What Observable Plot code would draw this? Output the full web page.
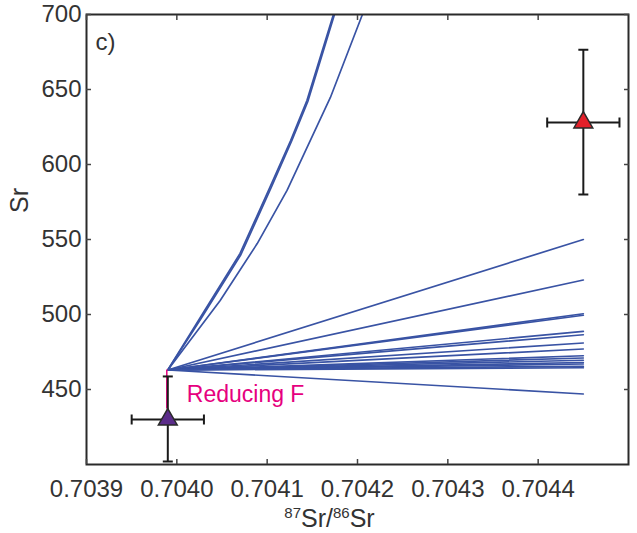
<!DOCTYPE html>
<html>
<head>
<meta charset="utf-8">
<script src="https://cdn.jsdelivr.net/npm/d3@7"></script>
<script src="https://cdn.jsdelivr.net/npm/@observablehq/plot@0.6"></script>
<style>
  html, body { margin: 0; padding: 0; background: #fff; }
  #chart svg { display: block; font-family: "Liberation Sans", Arial, Helvetica, sans-serif; }
</style>
</head>
<body>
<div id="chart"></div>
<script>
// ---- data ----
const xTicks = [0.7039, 0.7040, 0.7041, 0.7042, 0.7043, 0.7044];
const xTickLabels = ["0.7039", "0.7040", "0.7041", "0.7042", "0.7043", "0.7044"];
const yTicks = [450, 500, 550, 600, 650, 700];
const yTickLabels = ["450", "500", "550", "600", "650", "700"];

// common start point of all model curves
const startX = 0.70399;
const startY = 463;

// straight model lines ending at x = fanEndX
const fanEndX = 0.70445;
const fanEndY = [550, 523, 500.5, 499.5, 488.7, 486.5, 481, 477, 472.5, 471, 469.5, 468, 467, 465.5, 464.5, 447];

// steep curved model lines (continue past the top of the frame)
const curveAX = [0.70399, 0.704026, 0.704070, 0.704103, 0.704126, 0.704144, 0.704173, 0.704185];
const curveAY = [463, 498, 540.7, 584.7, 616, 642.7, 699.3, 722];
const curveBX = [0.70399, 0.704027, 0.704071, 0.704104, 0.704127, 0.704145, 0.704174, 0.704186];
const curveBY = [463, 497.5, 540, 584, 615.5, 642, 699, 721.5];
const curveCX = [0.70399, 0.704048, 0.704089, 0.704122, 0.704170, 0.704205, 0.704215];
const curveCY = [463, 509.3, 547.3, 582.7, 644.7, 699.3, 717];

// samples with error bars
const sampleNames = ["red", "purple"];
const sampleX = [0.704450, 0.70399];
const sampleY = [628, 430];
const sampleXlo = [0.70441, 0.70395];
const sampleXhi = [0.70449, 0.70403];
const sampleYlo = [580, 402];
const sampleYhi = [676.5, 458.7];
const sampleFill = ["#e3202a", "#5b2c8a"];

// "Reducing F" arrow line
const reducingY2 = 437;
const annotation = "Reducing F";
const panelLabel = "c)";
const xTitle = "87Sr/86Sr";
const yTitle = "Sr";

// ---- build tables ----
const lineRows = [];
fanEndY.forEach((ey, i) => {
  lineRows.push({id: "f" + i, x: startX, y: startY});
  lineRows.push({id: "f" + i, x: fanEndX, y: ey});
});
curveAX.forEach((x, i) => lineRows.push({id: "A", x, y: curveAY[i]}));
curveBX.forEach((x, i) => lineRows.push({id: "B", x, y: curveBY[i]}));
curveCX.forEach((x, i) => lineRows.push({id: "C", x, y: curveCY[i]}));

const samples = sampleNames.map((n, i) => ({
  name: n, x: sampleX[i], y: sampleY[i],
  xlo: sampleXlo[i], xhi: sampleXhi[i], ylo: sampleYlo[i], yhi: sampleYhi[i],
  fill: sampleFill[i]
}));
const capsH = samples.flatMap(s => [{x: s.x, y: s.ylo}, {x: s.x, y: s.yhi}]);
const capsV = samples.flatMap(s => [{x: s.xlo, y: s.y}, {x: s.xhi, y: s.y}]);

const hCap = {draw(ctx, size) { ctx.moveTo(-5, 0); ctx.lineTo(5, 0); }};
const vCap = {draw(ctx, size) { ctx.moveTo(0, -5); ctx.lineTo(0, 5); }};

const axisColor = "#2a2a2a";
const textColor = "#333";
const blue = "#3953a4";
const magenta = "#e6007e";

const chart = Plot.plot({
  width: 637,
  height: 533,
  marginLeft: 86,
  marginTop: 14,
  marginRight: 9,
  marginBottom: 69,
  style: {fontFamily: "'Liberation Sans', Arial, Helvetica, sans-serif", background: "#fff"},
  x: {domain: [0.7039, 0.7045]},
  y: {domain: [400, 700]},
  marks: [
    // model lines
    Plot.line(lineRows, {x: "x", y: "y", z: "id", stroke: blue, strokeWidth: 1.7, clip: true}),
    // reducing F line
    Plot.ruleX([startX], {y1: startY, y2: reducingY2, stroke: magenta, strokeWidth: 1.5, dx: -1}),
    // error bars
    Plot.ruleX(samples, {x: "x", y1: "ylo", y2: "yhi", stroke: "#1a1a1a", strokeWidth: 2}),
    Plot.ruleY(samples, {y: "y", x1: "xlo", x2: "xhi", stroke: "#1a1a1a", strokeWidth: 2}),
    Plot.dot(capsH, {x: "x", y: "y", symbol: hCap, stroke: "#1a1a1a", strokeWidth: 2, r: 5}),
    Plot.dot(capsV, {x: "x", y: "y", symbol: vCap, stroke: "#1a1a1a", strokeWidth: 2, r: 5}),
    // triangles
    Plot.dot(samples, {x: "x", y: "y", symbol: "triangle", r: 7, fill: "fill", stroke: "#2a2a2a", strokeWidth: 1.5}),
    // frame and ticks
    Plot.frame({stroke: axisColor, strokeWidth: 2}),
    Plot.axisX(xTicks, {anchor: "bottom", tickSize: -5, tickFormat: () => "", label: null, stroke: "#444", strokeWidth: 1.5}),
    Plot.axisX(xTicks, {anchor: "top", tickSize: -5, tickFormat: () => "", label: null, stroke: "#444", strokeWidth: 1.5}),
    Plot.axisY(yTicks, {anchor: "left", tickSize: -5, tickFormat: () => "", label: null, stroke: "#444", strokeWidth: 1.5}),
    Plot.axisY(yTicks, {anchor: "right", tickSize: -5, tickFormat: () => "", label: null, stroke: "#444", strokeWidth: 1.5}),
    // tick labels
    Plot.axisX(xTicks, {anchor: "bottom", tickSize: 0, tickPadding: 15, label: null, fontSize: 24, fill: textColor,
      tickFormat: d => xTickLabels[xTicks.indexOf(d)]}),
    Plot.axisY(yTicks, {anchor: "left", tickSize: 0, tickPadding: 5, label: null, fontSize: 24, fill: textColor,
      tickFormat: d => yTickLabels[yTicks.indexOf(d)]}),
    // texts
    Plot.text([panelLabel], {frameAnchor: "top-left", dx: 9, dy: 28, textAnchor: "start", lineAnchor: "middle", fontSize: 24, fill: textColor}),
    Plot.text([annotation], {x: () => startX, y: () => startY, dx: 19, dy: 25, textAnchor: "start", lineAnchor: "middle", fontSize: 23, fill: magenta}),
    Plot.text([yTitle], {frameAnchor: "left", rotate: -90, dx: -67, dy: -39, textAnchor: "middle", lineAnchor: "middle", fontSize: 25, fill: textColor}),
    Plot.text([xTitle], {frameAnchor: "bottom", dx: -28, dy: 54, textAnchor: "middle", lineAnchor: "middle", fontSize: 25, fill: textColor})
  ]
});

document.getElementById("chart").appendChild(chart);

// superscripts for the isotope labels in the x title
chart.querySelectorAll("text").forEach(t => {
  if (t.textContent === xTitle) {
    const parts = [["87", true], ["Sr/", false], ["86", true], ["Sr", false]];
    while (t.firstChild) t.removeChild(t.firstChild);
    let up = false;
    parts.forEach(([s, sup]) => {
      const ts = document.createElementNS("http://www.w3.org/2000/svg", "tspan");
      ts.textContent = s;
      if (sup) { ts.setAttribute("font-size", "15"); ts.setAttribute("dy", up ? "0" : "-9"); up = true; }
      else { ts.setAttribute("dy", up ? "9" : "0"); up = false; }
      t.appendChild(ts);
    });
  }
});
</script>
</body>
</html>
